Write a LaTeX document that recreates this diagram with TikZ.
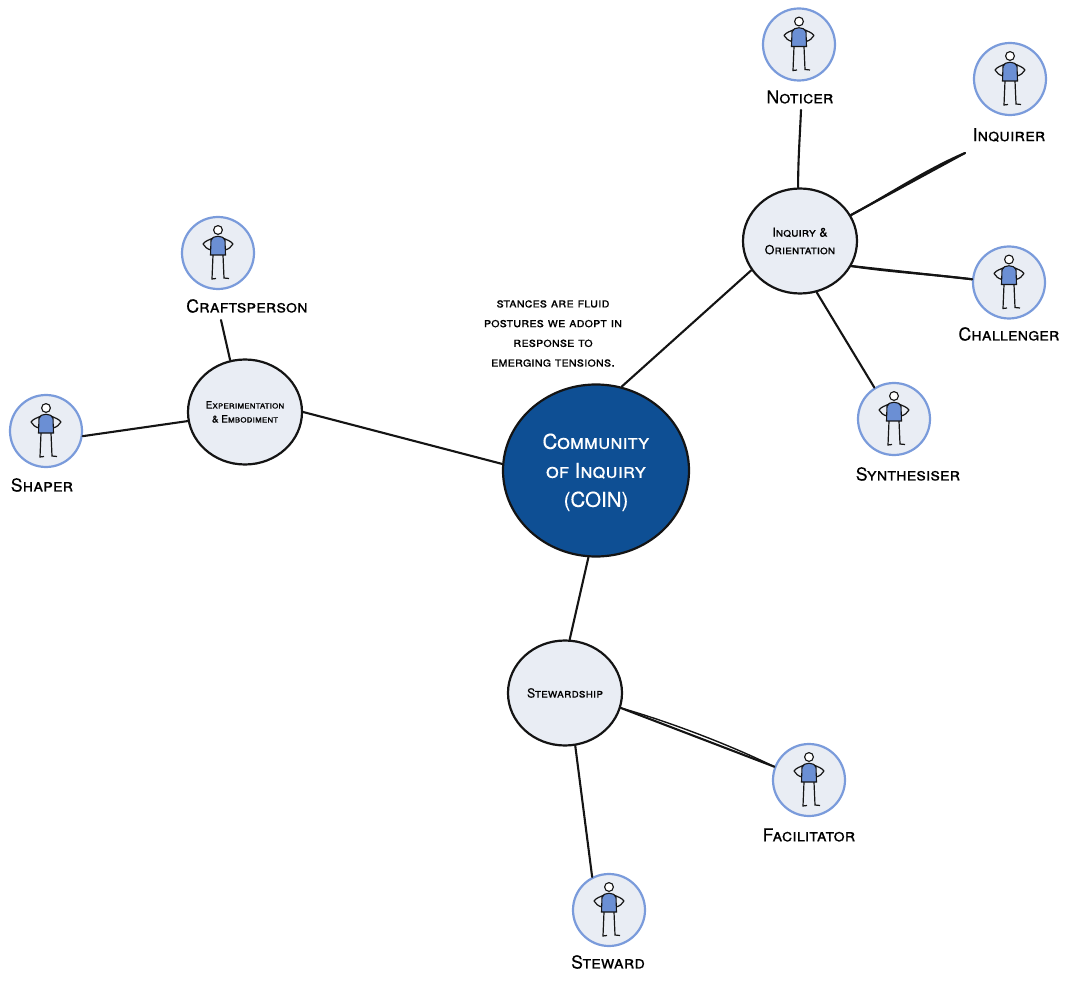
\documentclass[tikz,border=0pt]{standalone}
\usepackage{fontspec}
\setmainfont{TeX Gyre Heros}[Letters=SmallCaps,FakeBold=0.25]
\usetikzlibrary{shapes.geometric}
\definecolor{hub}{HTML}{0E4F94}
\definecolor{pale}{HTML}{E9EDF4}
\definecolor{ringc}{HTML}{7A9BDB}
\definecolor{bodyc}{HTML}{6B8FD4}
\definecolor{inkc}{HTML}{141414}
\newcommand{\fs}[1]{\fontsize{#1}{#1}\selectfont}
\tikzset{
 x=1pt,y=-1pt,
 conn/.style={draw=inkc,line width=2.1pt,line cap=round},
 hubnode/.style={ellipse,draw=inkc,line width=2.2pt,fill=hub,text=white,minimum width=186pt,minimum height=172pt,inner sep=0pt,align=center,font=\fs{20.5}},
 catnode/.style={ellipse,draw=inkc,line width=2.2pt,fill=pale,text=black,minimum width=114pt,minimum height=105pt,inner sep=0pt,align=center},
 personnode/.style={circle,draw=ringc,line width=2.2pt,fill=pale,minimum size=72pt,inner sep=0pt},
 role/.style={inner sep=0pt,font=\fs{17.8},text=black},
 note/.style={inner sep=0pt,align=center,font=\fs{13.5},text=black},
 figure/.pic={
  \draw[draw=inkc,line width=1.1pt,fill=white] (0,-23) circle (4.4);
  \draw[inkc,line width=1.2pt,line join=round] (-5,-15) .. controls (-9,-13) and (-13,-12) .. (-15,-9) .. controls (-13,-6) and (-11,-4) .. (-7,-3);
  \draw[inkc,line width=1.2pt,line join=round] (5,-15) .. controls (9,-13) and (13,-12) .. (15,-9) .. controls (13,-6) and (11,-4) .. (7,-3);
  \draw[inkc,line width=1.2pt] (-5,2) -- (-6,26) -- (-2,25.5);
  \draw[inkc,line width=1.2pt] (5,2) -- (6,25) -- (11,25.5);
  \draw[inkc,line width=1.1pt,fill=bodyc] (-7,-13) .. controls (-5,-18) and (5,-18) .. (7,-13) -- (7.5,2) -- (-7.5,2) -- cycle;
 }
}
\begin{document}
\begin{tikzpicture}
\useasboundingbox (0,0) rectangle (1069,984);
\node[hubnode] (hubn) at (596,470.5) {\rule{0pt}{19pt}Community\\[8.5pt]of Inquiry\\[8.5pt](COIN)};
\node[catnode,font=\fs{12.5}] (inq) at (800,241) {Inquiry \&\\[5pt]Orientation};
\node[catnode,font=\fs{10}] (exp) at (245,412) {Experimentation\\[4pt]\& Embodiment};
\node[catnode,font=\fs{12.5}] (stew) at (565,693) {Stewardship};

\node[personnode] (pnot) at (799,44.5) {};
\node[personnode] (pinq) at (1010,79) {};
\node[personnode] (pcha) at (1009,282.5) {};
\node[personnode] (psyn) at (894,419) {};
\node[personnode] (pcra) at (218,253) {};
\node[personnode] (psha) at (46,431) {};
\node[personnode] (pfac) at (809,780) {};
\node[personnode] (pste) at (609,910) {};
\foreach \p in {pnot,pinq,pcha,psyn,pcra,psha,pfac,pste} \pic at (\p) {figure};

\node[role] (lnot) at (800,97) {Noticer};
\node[role] (linq) at (1009,135) {Inquirer};
\node[role] (lcha) at (1009,334) {Challenger};
\node[role] (lsyn) at (908,474) {Synthesiser};
\node[role] (lcra) at (247,306) {Craftsperson};
\node[role] (lsha) at (42,485) {Shaper};
\node[role] (lfac) at (809,835) {Facilitator};
\node[role] (lste) at (608,962) {Steward};
\node[note] (txt) at (553,333.5) {stances are fluid\\[6.2pt]postures we adopt in\\[6.2pt]response to\\[6.2pt]emerging tensions.};

\coordinate (endnot) at (801,110);
\coordinate (endinq) at (965,153);
\coordinate (endcra) at (221,320);

\draw[conn] (hubn.73) -- (inq.211);
\draw[conn] (hubn.176.4) -- (exp.0);
\draw[conn] (hubn.265.4) -- (stew.85);
\draw[conn] (inq.92) .. controls (798,160) and (800,135) .. (endnot);
\draw[conn] (inq.27) -- (endinq);
\draw[conn] (inq.27) .. controls (885,197) and (925,170) .. (endinq);
\draw[conn] (inq.-26.6) -- (pcha.175);
\draw[conn] (inq.-26.6) .. controls (890,272) and (930,274) .. (pcha.175);
\draw[conn] (inq.-72.6) -- (psyn.122);
\draw[conn] (exp.106) -- (endcra);
\draw[conn] (exp.189) -- (psha.-8);
\draw[conn] (stew.-15) -- (pfac.159);
\draw[conn,line width=1.4pt] (stew.-15) .. controls (670,722) and (730,745) .. (pfac.159);
\draw[conn] (stew.-79) -- (pste.117);
\end{tikzpicture}
\end{document}
